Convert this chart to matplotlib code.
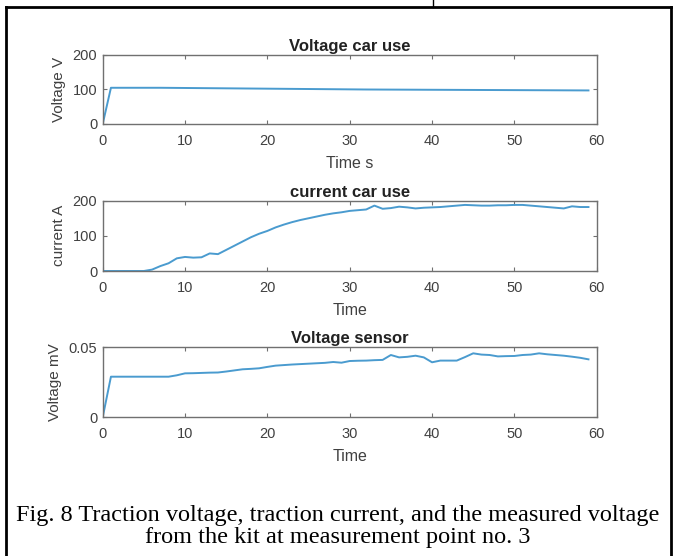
import matplotlib
matplotlib.use("Agg")
import matplotlib.pyplot as plt
from matplotlib.lines import Line2D

time = list(range(0, 60))

voltage_car = [0, 105, 105, 105, 105, 105, 105, 105, 104.8, 104.6,
               104.4, 104.2, 104, 103.8, 103.6, 103.4, 103.2, 103, 102.8, 102.6,
               102.4, 102.2, 102, 101.8, 101.6, 101.4, 101.2, 101, 100.8, 100.6,
               100.4, 100.2, 100, 99.9, 99.8, 99.7, 99.6, 99.5, 99.4, 99.3,
               99.2, 99.1, 99, 98.9, 98.8, 98.7, 98.6, 98.5, 98.4, 98.3,
               98.2, 98.1, 98, 97.9, 97.8, 97.7, 97.6, 97.5, 97.4, 97.3]

current_car = [0, 0, 0, 0, 0, 0, 4, 14, 22, 36,
               40, 38, 39, 50, 48, 60, 72, 84, 96, 106,
               114, 124, 132, 139, 145, 150, 155, 160, 164, 167,
               171, 173, 175, 186, 177, 179, 183, 181, 178, 180,
               181, 182, 184, 186, 188, 187, 186, 186, 187, 187,
               188, 188, 186, 184, 182, 180, 178, 184, 182, 182]

voltage_sensor = [0, 0.029, 0.029, 0.029, 0.029, 0.029, 0.029, 0.029, 0.029, 0.030,
                  0.0314, 0.0315, 0.0317, 0.0319, 0.032, 0.0327, 0.0335, 0.0343, 0.0346, 0.035,
                  0.036, 0.0369, 0.0373, 0.0377, 0.038, 0.0383, 0.0386, 0.0389, 0.0395, 0.039,
                  0.0402, 0.0404, 0.0405, 0.0408, 0.041, 0.0445, 0.0428, 0.0432, 0.044, 0.0428,
                  0.0393, 0.0405, 0.0405, 0.0405, 0.043, 0.0457, 0.0448, 0.0445, 0.0435, 0.0437,
                  0.0438, 0.0445, 0.0448, 0.0457, 0.045, 0.0445, 0.044, 0.0433, 0.0425, 0.0414]

titles = ["Voltage car use", "current car use", "Voltage sensor"]
ylabels = ["Voltage V", "current A", "Voltage mV"]
xlabels = ["Time s", "Time", "Time"]
yticks = [[0, 100, 200], [0, 100, 200], [0, 0.05]]
yticklabels = [["0", "100", "200"], ["0", "100", "200"], ["0", "0.05"]]
ylims = [(0, 200), (0, 200), (0, 0.05)]
xticks = [0, 10, 20, 30, 40, 50, 60]
caption_lines = ["Fig. 8 Traction voltage, traction current, and the measured voltage",
                 "from the kit at measurement point no. 3"]

W, H = 676, 556
fig = plt.figure(figsize=(W / 100, H / 100), dpi=100)
plt.rcParams['font.family'] = ['Liberation Sans', 'DejaVu Sans']

line_color = '#4a9bcf'
spine_color = '#707070'
text_color = '#404040'

# axes boxes in pixels: (left, top, right, bottom)
boxes = [(102.7, 55, 596.7, 124), (102.7, 200.7, 596.7, 271), (102.7, 347.3, 596.7, 417.3)]
series = [voltage_car, current_car, voltage_sensor]

for i, (l, t, r, b) in enumerate(boxes):
    ax = fig.add_axes([l / W, 1 - b / H, (r - l) / W, (b - t) / H])
    ax.plot(time, series[i], color=line_color, lw=1.4)
    ax.set_xlim(0, 60)
    ax.set_ylim(*ylims[i])
    ax.set_xticks(xticks)
    ax.set_yticks(yticks[i])
    ax.set_yticklabels(yticklabels[i])
    ax.tick_params(axis='x', pad=7)
    ax.tick_params(axis='y', pad=4)
    ax.tick_params(direction='in', top=True, right=True, length=3, width=0.8,
                   color=spine_color, labelcolor=text_color, labelsize=10.5)
    for s in ax.spines.values():
        s.set_color(spine_color)
        s.set_linewidth(1.0)
    ax.set_title(titles[i], fontsize=12, fontweight='bold', color='#222222', pad=3)
    ax.set_xlabel(xlabels[i], fontsize=11.5, color=text_color, labelpad=6)
    ax.set_ylabel(ylabels[i], fontsize=11, color=text_color, labelpad=5)

for y_px, txt in zip([515, 538], caption_lines):
    fig.text(0.5, 1 - y_px / H, txt, ha='center', va='center', fontsize=17.5,
             family=['Liberation Serif', 'DejaVu Serif'], color='black')

# table border
def fl(x0, y0, x1, y1, lw=2):
    fig.add_artist(Line2D([x0 / W, x1 / W], [1 - y0 / H, 1 - y1 / H],
                          color='black', lw=lw, transform=fig.transFigure))

fl(5.5, 7, 5.5, 556)
fl(671, 7, 671, 556)
fl(5.5, 7, 671, 7)
fl(433, 0, 433, 7, lw=1)

fig.savefig("out.png", dpi=100)
